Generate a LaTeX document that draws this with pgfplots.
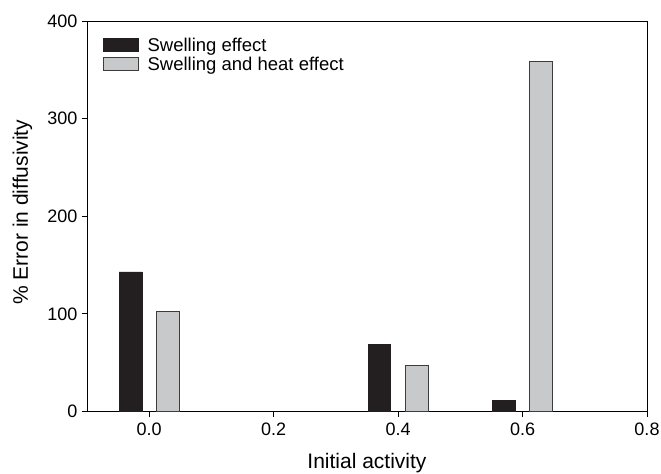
\documentclass[border=0pt]{standalone}
\usepackage{pgfplots}
\pgfplotsset{compat=1.18}
\usetikzlibrary{calc}
\usepackage{fontspec}
\setmainfont{Liberation Sans}
\definecolor{barblack}{RGB}{35,31,32}
\definecolor{bargray}{RGB}{200,201,203}
\definecolor{edgegray}{RGB}{60,60,60}
\begin{document}
\begin{tikzpicture}
\begin{axis}[
  scale only axis, width=560pt, height=390.5pt,
  xmin=-0.1, xmax=0.8, ymin=0, ymax=400,
  xtick={0,0.2,0.4,0.6,0.8}, ytick={0,100,200,300,400},
  xtick pos=bottom, ytick pos=left, tick align=outside,
  major tick length=5pt,
  tick style={black, line width=0.8pt},
  axis line style={line width=0.9pt, black},
  /pgf/number format/assume math mode=true,
  ticklabel style={font=\fontsize{18}{20}\selectfont},
  xticklabel style={yshift=-3pt, /pgf/number format/fixed, /pgf/number format/fixed zerofill, /pgf/number format/precision=1},
  yticklabel style={xshift=-1pt},
  xlabel={Initial activity}, ylabel={\% Error in diffusivity},
  label style={font=\fontsize{21}{24}\selectfont},
  xlabel style={at={(axis description cs:0.5,-0.1450)}, anchor=base},
  ylabel style={at={(axis description cs:-0.1054,0.51)}, anchor=base, rotate=0},
  ybar, bar width=22.7pt, bar shift=0pt,
  legend style={draw=none, fill=none, at={(axis description cs:0.0286,0.9615)}, anchor=north west,
    inner sep=0pt, font=\fontsize{18.5}{20}\selectfont, row sep=1pt,
    nodes={inner sep=1.5pt},
    /tikz/every odd column/.append style={column sep=7pt}},
  legend cell align=left,
  legend image code/.code={\draw[#1, bar shift=0pt] (0pt,-6.5pt) rectangle (35pt,6.5pt);},
]
\addplot[fill=barblack, draw=barblack, line width=0.6pt] coordinates {(-0.03,143) (0.37,69) (0.57,11)};
\addplot[fill=bargray, draw=edgegray, line width=0.9pt] coordinates {(0.03,102.5) (0.43,47.5) (0.63,359)};
\legend{Swelling effect, Swelling and heat effect}
\end{axis}
\pgfresetboundingbox
\path ($(current axis.south west)+(-87pt,-61.5pt)$) rectangle ($(current axis.north east)+(14pt,21pt)$);
\end{tikzpicture}
\end{document}
